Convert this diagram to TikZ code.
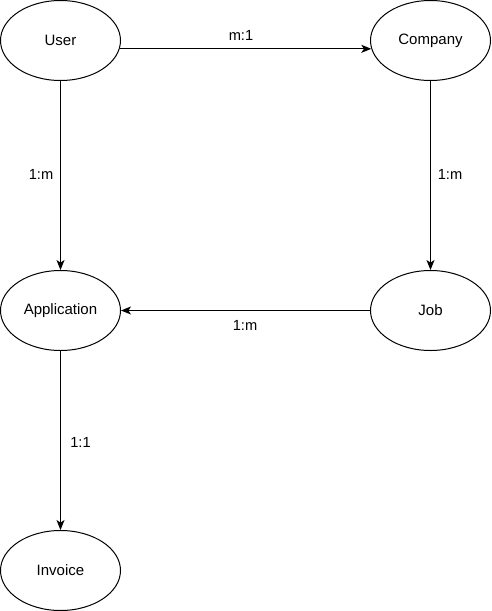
\documentclass[tikz,border=0pt]{standalone}
\usepackage{fontspec}
\setmainfont{Liberation Sans}
\usetikzlibrary{arrows.meta,shapes.geometric}
\tikzset{
	entity/.style={draw, ellipse, line width=0.75pt, minimum width=90pt, minimum height=60pt, inner sep=0pt, font=\fontsize{11.25}{13}\selectfont},
	link/.style={line width=0.75pt, -{Stealth[length=7.5pt, width=6pt, inset=2pt]}},
	card/.style={inner sep=0pt, font=\fontsize{11}{13}\selectfont}
}

\begin{document}
\begin{tikzpicture}[x=0.75pt, y=-0.75pt]
			%%%%% START %%%%%
			
			\useasboundingbox (0, 0) rectangle (492, 611);
			
			\node[entity] (user) at (60.5, 40.5) {User};
			\node[entity] (company) at (430.5, 40.5) {Company};
			\node[entity] (application) at (60.5, 310.5) {Application};
			\node[entity] (job) at (430.5, 310.5) {Job};
			\node[entity] (invoice) at (60.5, 570.5) {Invoice};
			
			\draw[link] (user.-8.25) -- (company.188.25);
			\node[card] (lblUserCompany) at (241, 35) {m:1};
			
			\draw[link] (user.south) -- (application.north);
			\node[card] (lblUserApplication) at (41, 174) {1:m};
			
			\draw[link] (company.south) -- (job.north);
			\node[card] (lblCompanyJob) at (450, 174) {1:m};
			
			\draw[link] (job.west) -- (application.east);
			\node[card] (lblJobApplication) at (245, 325.5) {1:m};
			
			\draw[link] (application.south) -- (invoice.north);
			\node[card] (lblApplicationInvoice) at (80.5, 442) {1:1};
			
			%%%%% END %%%%%
		\end{tikzpicture}
\end{document}
